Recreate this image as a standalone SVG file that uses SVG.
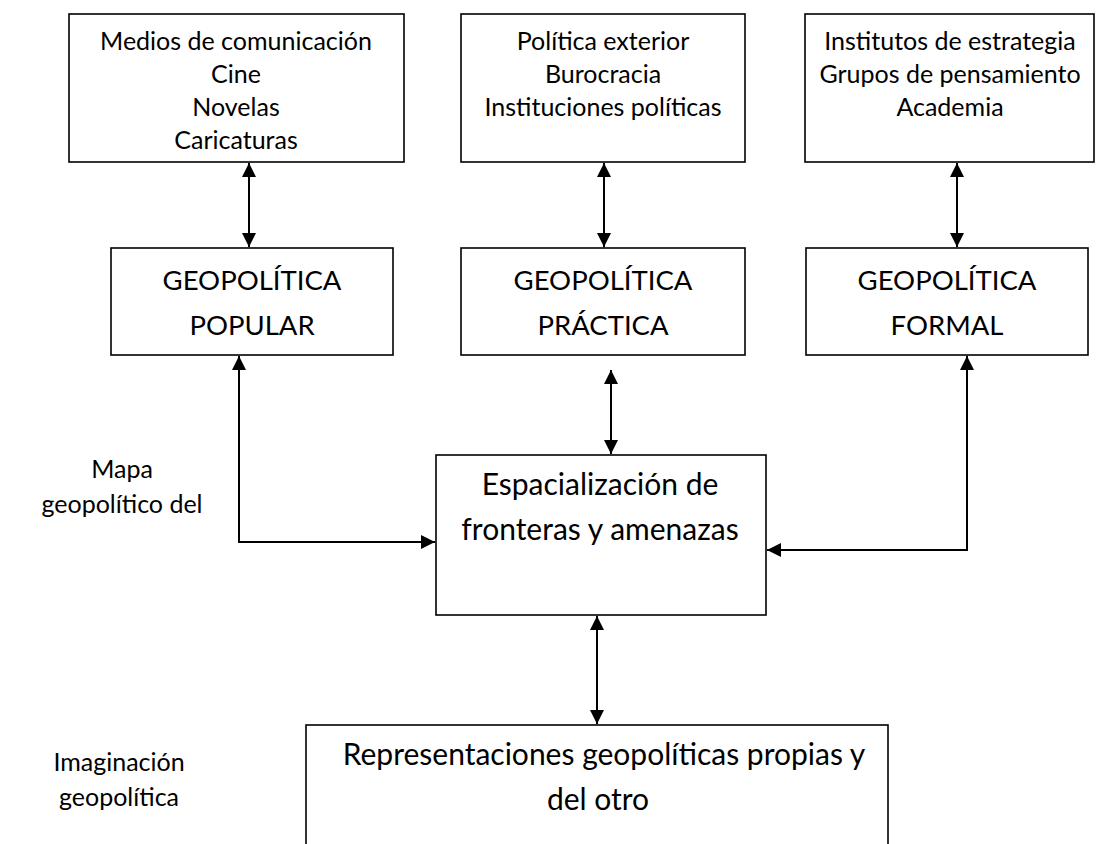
<svg xmlns="http://www.w3.org/2000/svg" width="1096" height="844" viewBox="0 0 1096 844">
<style>
.box{fill:#fff;stroke:#000;stroke-width:1.6}
.t{font-family:Lato,"Open Sans",sans-serif;fill:#000;text-anchor:middle}
.s{font-size:25px}
.l{font-size:30px}
.k{font-size:27.5px}
.c{fill:none;stroke:#000;stroke-width:2}
</style>
<defs>
<marker id="ah" viewBox="0 0 10 10" refX="10" refY="5" markerUnits="userSpaceOnUse" markerWidth="14" markerHeight="14" orient="auto-start-reverse">
<path d="M0,0 L10,5 L0,10 z" fill="#000"/>
</marker>
</defs>
<rect width="1096" height="844" fill="#fff"/>
<g id="connectors">
<path class="c" d="M249,163 V247" marker-start="url(#ah)" marker-end="url(#ah)"/>
<path class="c" d="M604,163 V247" marker-start="url(#ah)" marker-end="url(#ah)"/>
<path class="c" d="M957,163 V247" marker-start="url(#ah)" marker-end="url(#ah)"/>
<path class="c" d="M611,370 V454" marker-start="url(#ah)" marker-end="url(#ah)"/>
<path class="c" d="M239,356 V542 H435" marker-start="url(#ah)" marker-end="url(#ah)"/>
<path class="c" d="M967,356 V550 H767" marker-start="url(#ah)" marker-end="url(#ah)"/>
<path class="c" d="M597,616 V724" marker-start="url(#ah)" marker-end="url(#ah)"/>
</g>
<g id="medios">
<rect class="box" x="69" y="14" width="335" height="148"/>
<text class="t s" x="236" y="50">Medios de comunicación</text>
<text class="t s" x="236" y="83">Cine</text>
<text class="t s" x="236" y="116">Novelas</text>
<text class="t s" x="236" y="149">Caricaturas</text>
</g>
<g id="politica">
<rect class="box" x="461" y="14" width="284" height="148"/>
<text class="t s" x="603" y="50">Política exterior</text>
<text class="t s" x="603" y="83">Burocracia</text>
<text class="t s" x="603" y="116">Instituciones políticas</text>
</g>
<g id="institutos">
<rect class="box" x="805" y="14" width="289" height="148"/>
<text class="t s" x="950" y="50">Institutos de estrategia</text>
<text class="t s" x="950" y="83">Grupos de pensamiento</text>
<text class="t s" x="950" y="116">Academia</text>
</g>
<g id="popular">
<rect class="box" x="111" y="248" width="282" height="107"/>
<text class="t k" x="252" y="290">GEOPOLÍTICA</text>
<text class="t k" x="252" y="335">POPULAR</text>
</g>
<g id="practica">
<rect class="box" x="461" y="248" width="284" height="107"/>
<text class="t k" x="603" y="290">GEOPOLÍTICA</text>
<text class="t k" x="603" y="335">PRÁCTICA</text>
</g>
<g id="formal">
<rect class="box" x="806" y="248" width="282" height="107"/>
<text class="t k" x="947" y="290">GEOPOLÍTICA</text>
<text class="t k" x="947" y="335">FORMAL</text>
</g>
<g id="espacializacion">
<rect class="box" x="436" y="455" width="330" height="160"/>
<text class="t l" x="600" y="495">Espacialización de</text>
<text class="t l" x="600" y="540">fronteras y amenazas</text>
</g>
<g id="representaciones">
<rect class="box" x="306" y="725" width="582" height="140"/>
<text class="t l" x="604" y="765">Representaciones geopolíticas propias  y</text>
<text class="t l" x="598" y="810">del otro</text>
</g>
<g id="mapa">
<text class="t s" x="122" y="478">Mapa</text>
<text class="t s" x="122" y="513">geopolítico del</text>
</g>
<g id="imaginacion">
<text class="t s" x="119" y="771">Imaginación</text>
<text class="t s" x="119" y="806">geopolítica</text>
</g>
</svg>
